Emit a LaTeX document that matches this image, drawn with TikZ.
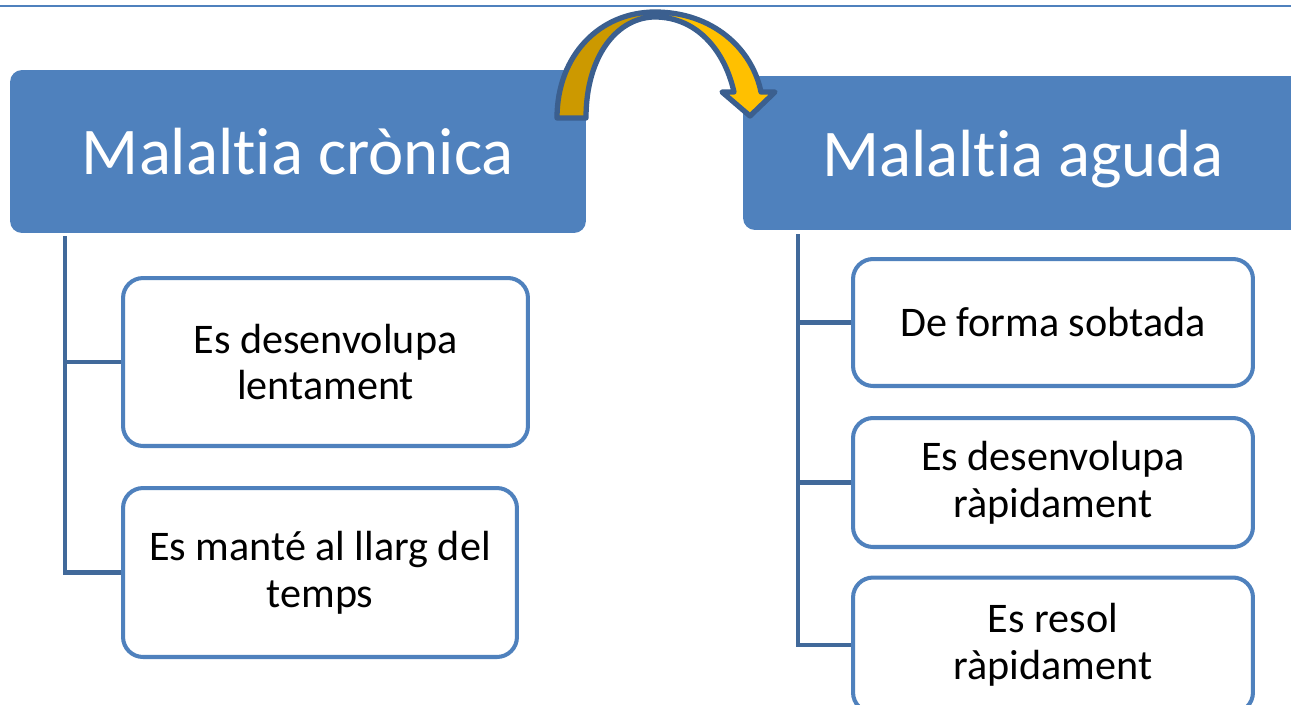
\documentclass[tikz,border=0pt]{standalone}
\usepackage{fontspec}
\setmainfont{Carlito}[Ligatures=NoCommon]
\definecolor{hdrblue}{HTML}{4F81BD}
\definecolor{linkblue}{HTML}{41699A}
\definecolor{arcedge}{HTML}{3B5F8F}
\definecolor{golddark}{HTML}{CC9900}
\definecolor{goldlight}{HTML}{FFC000}
\def\hookpath{(557,118) .. controls (557,55) and (600,12) .. (655,12)
  .. controls (712,12) and (752,48) .. (761,92) -- (775,92) -- (750,116)
  -- (722,92) -- (734,92) .. controls (724,48) and (695,17) .. (655,17)
  .. controls (618,17) and (586,55) .. (586,118) -- cycle}
\begin{document}
\begin{tikzpicture}
[x=0.02cm,y=-0.02cm,
header/.style = {fill=hdrblue, text=white, rounded corners=0.24cm, inner sep=0pt, text depth=0pt, font=\fontsize{38}{44}\selectfont},
item/.style = {draw=hdrblue, line width=2.3pt, fill=white, rounded corners=0.4cm, inner sep=0pt, align=center, minimum width=8cm, font=\fontsize{24}{26.5}\selectfont},
link/.style = {draw=linkblue, line width=2.6pt},]
\useasboundingbox (0,0) rectangle (1291,704);
\clip (0,0) rectangle (1291,704);
\draw[hdrblue, line width=1.2pt] (0,6) -- (1291,6);
\node (chronic) at (298,151.5)[header, minimum width=11.52cm, minimum height=3.26cm] {Malaltia crònica};
\node (acute) at (1023,153)[header, minimum width=11.2cm, minimum height=3.08cm] {Malaltia aguda};
\node (slow) at (325.5,362)[item, minimum width=8.1cm, minimum height=3.36cm] {Es desenvolupa\\lentament};
\node (lasting) at (320,572.5)[item, minimum width=7.88cm, minimum height=3.38cm] {Es manté al llarg del\\temps};
\node (sudden) at (1053,322.5)[item, minimum height=2.54cm] {De forma sobtada};
\node (fast) at (1053,482.5)[item, minimum height=2.58cm] {Es desenvolupa\\ràpidament};
\node (resolves) at (1053,645)[item, minimum height=2.7cm] {Es resol\\ràpidament};
\coordinate (ltop) at (65,236);
\coordinate (rtop) at (798,234);
\draw[link] (ltop) |- (lasting.west);
\draw[link] (ltop |- slow.west) -- (slow.west);
\draw[link] (rtop) |- (resolves.west);
\draw[link] (rtop |- sudden.west) -- (sudden.west);
\draw[link] (rtop |- fast.west) -- (fast.west);
% curved arrow between the two headers
\fill[goldlight] \hookpath;
\begin{scope}
\clip (540,0) rectangle (652,130);
\fill[golddark] \hookpath;
\end{scope}
\draw[arcedge, line width=3pt, line join=round] \hookpath;
\end{tikzpicture}
\end{document}
